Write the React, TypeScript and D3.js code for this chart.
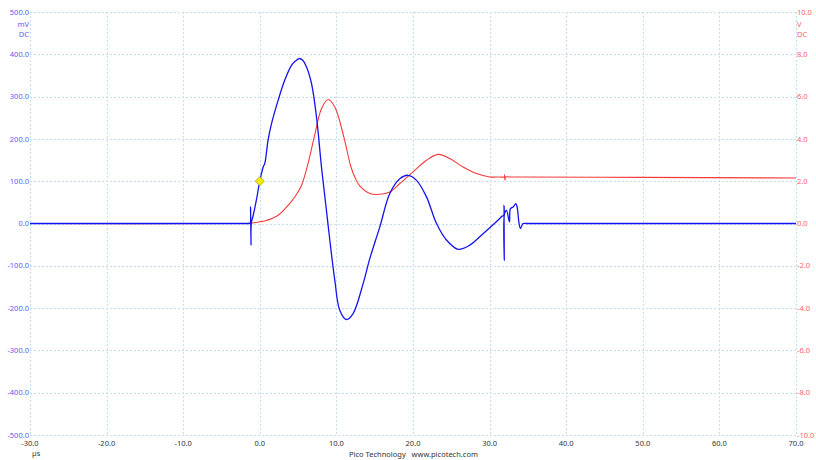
import React, { useRef, useEffect } from "react";
import * as d3 from "d3";

const width = 816;
const height = 460;
const plot = { left: 30, right: 796, top: 12, bottom: 435 };

// time axis, µs
const xTicks = [-30, -20, -10, 0, 10, 20, 30, 40, 50, 60, 70];
// channel A, mV (left axis)
const mvTicks = [500, 400, 300, 200, 100, 0, -100, -200, -300, -400, -500];
// channel B, V (right axis)
const vTicks = [10, 8, 6, 4, 2, 0, -2, -4, -6, -8, -10];

// channel A trace (blue)
const blueTimes = [
    -30, -2, -1.4, -1.3, -1.25, -1.2, -1.15, -1.1, -0.9, -0.45, 0, 0.45, 0.65,
    1.08, 1.53, 2.39, 3.26, 4.14, 4.65, 5.13, 5.6, 6.1, 6.75, 7.4, 8.05, 8.7,
    9.14, 9.79, 10.44, 11.32, 12.18, 13.49, 14.36, 15.67, 16.97, 18.28, 19.36,
    20.46, 21.76, 23.07, 24.37, 25.89, 27.42, 29.15, 31.33, 31.55, 31.85, 31.88,
    31.92, 31.96, 32.2, 32.5, 32.6, 32.72, 33.07, 33.42, 33.59, 33.85, 34.03,
    34.37, 34.8, 36, 70,
];
const blueValues = [
    0, 0, 0, 0, 0, 39, -51, 2, 16, 55, 100, 134, 142, 197, 236, 291, 339, 374,
    384, 390, 386, 370, 331, 252, 134, 31, -39, -134, -205, -227, -213, -142,
    -83, -8, 71, 106, 114, 102, 63, 0, -39, -61, -51, -24, 12, 16, 20, 43, -87,
    24, 31, 10, 4, 35, 39, 47, 39, 0, -12, 0, 0, 0, 0,
];

// channel B trace (red)
const redTimes = [
    -30, -3, -1.3, 0, 0.65, 2.39, 4.14, 4.8, 5.44, 5.9, 6.31, 7.18, 8.05, 8.92,
    9.79, 11.0, 11.9, 12.5, 13.05, 14.36, 15.67, 16.97, 18.28, 20.01, 21.76,
    23.28, 24.8, 26.54, 28.29, 30.03, 31.33, 31.9, 31.95, 32.0, 32.1, 32.6, 34,
    50, 70,
];
const redValues = [
    0, 0, 0.01, 0.08, 0.12, 0.39, 1.05, 1.38, 1.8, 2.3, 2.85, 4.2, 5.43, 5.86,
    5.51, 4.05, 2.67, 2.12, 1.78, 1.42, 1.38, 1.49, 1.89, 2.44, 2.99, 3.27, 3.07,
    2.67, 2.36, 2.2, 2.2, 2.2, 2.3, 2.05, 2.2, 2.2, 2.2, 2.18, 2.15,
];

// trigger point
const trigger = { t: 0, mv: 100 };

const font = "'Noto Sans', sans-serif";

function drawScope(el: SVGSVGElement) {
    const svg = d3.select(el);
    svg.selectAll("*").remove();

    const x = d3.scaleLinear().domain([-30, 70]).range([plot.left, plot.right]);
    const yMv = d3.scaleLinear().domain([-500, 500]).range([plot.bottom, plot.top]);
    const yV = d3.scaleLinear().domain([-10, 10]).range([plot.bottom, plot.top]);

    svg.append("rect").attr("width", width).attr("height", height).attr("fill", "white");

    // grid
    const grid = svg
        .append("g")
        .attr("stroke", "#c4dff0")
        .attr("stroke-width", 1)
        .attr("stroke-dasharray", "2,2");
    grid.selectAll("line.v")
        .data(xTicks)
        .join("line")
        .attr("class", "v")
        .attr("x1", (d) => Math.round(x(d)) + 0.5)
        .attr("x2", (d) => Math.round(x(d)) + 0.5)
        .attr("y1", plot.top)
        .attr("y2", plot.bottom);
    grid.selectAll("line.h")
        .data(mvTicks)
        .join("line")
        .attr("class", "h")
        .attr("x1", plot.left)
        .attr("x2", plot.right)
        .attr("y1", (d) => Math.round(yMv(d)) + 0.5)
        .attr("y2", (d) => Math.round(yMv(d)) + 0.5);

    // left axis labels
    const left = svg
        .append("g")
        .attr("font-family", font)
        .attr("font-size", 7.5)
        .attr("fill", "#5b5bf5")
        .attr("text-anchor", "end");
    left.selectAll("text")
        .data(mvTicks)
        .join("text")
        .attr("x", plot.left - 1)
        .attr("y", (d) => yMv(d))
        .attr("dy", "0.35em")
        .text((d) => d.toFixed(1));
    left.append("text").attr("x", plot.left - 1).attr("y", 27).text("mV");
    left.append("text").attr("x", plot.left - 1).attr("y", 37).text("DC");

    // right axis labels
    const right = svg
        .append("g")
        .attr("font-family", font)
        .attr("font-size", 7.5)
        .attr("fill", "#ff6464")
        .attr("text-anchor", "start");
    right.selectAll("text")
        .data(vTicks)
        .join("text")
        .attr("x", plot.right + 1)
        .attr("y", (d) => yV(d))
        .attr("dy", "0.35em")
        .text((d) => d.toFixed(1));
    right.append("text").attr("x", plot.right + 1).attr("y", 27).text("V");
    right.append("text").attr("x", plot.right + 1).attr("y", 37).text("DC");

    // time axis labels
    const bottom = svg
        .append("g")
        .attr("font-family", font)
        .attr("font-size", 7.5)
        .attr("fill", "#333");
    bottom.selectAll("text")
        .data(xTicks)
        .join("text")
        .attr("x", (d) => x(d))
        .attr("y", 446)
        .attr("text-anchor", "middle")
        .text((d) => d.toFixed(1));
    bottom.append("text").attr("x", 32).attr("y", 456).text("µs");
    bottom
        .append("text")
        .attr("x", 349)
        .attr("y", 457)
        .attr("xml:space", "preserve")
        .text("Pico Technology   www.picotech.com");

    const line = (ys: d3.ScaleLinear<number, number>) =>
        d3
            .line<[number, number]>()
            .x((d) => x(d[0]))
            .y((d) => ys(d[1]))
            .curve(d3.curveCatmullRom.alpha(0.5));

    const red = redTimes.map((t, i) => [t, redValues[i]] as [number, number]);
    const blue = blueTimes.map((t, i) => [t, blueValues[i]] as [number, number]);

    svg.append("path")
        .datum(red)
        .attr("fill", "none")
        .attr("stroke", "#f23a3a")
        .attr("stroke-width", 1.1)
        .attr("d", line(yV));

    svg.append("path")
        .datum(blue)
        .attr("fill", "none")
        .attr("stroke", "#1414f0")
        .attr("stroke-width", 1.3)
        .attr("d", line(yMv));

    // trigger marker
    const tx = x(trigger.t);
    const ty = yMv(trigger.mv);
    svg.append("path")
        .attr("d", `M${tx},${ty - 4.5}L${tx + 4.5},${ty}L${tx},${ty + 4.5}L${tx - 4.5},${ty}Z`)
        .attr("fill", "#f5ee00")
        .attr("stroke", "#a89c20")
        .attr("stroke-width", 0.8);
}

export default function App() {
    const ref = useRef<SVGSVGElement>(null);

    useEffect(() => {
        if (ref.current) drawScope(ref.current);
    }, []);

    return (
        <svg
            ref={ref}
            width={width}
            height={height}
            style={{ position: "absolute", left: 0, top: 0, display: "block" }}
        />
    );
}
